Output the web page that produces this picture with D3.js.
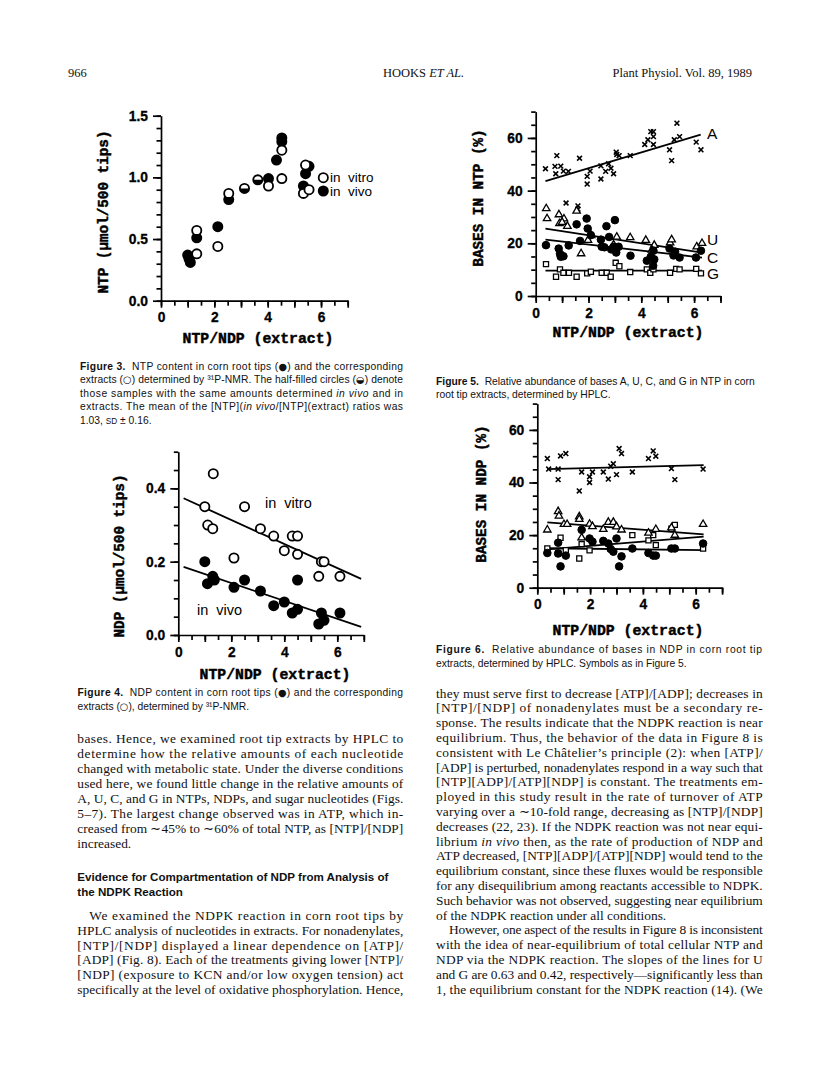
<!DOCTYPE html>
<html>
<head>
<meta charset="utf-8">
<script src="https://cdn.jsdelivr.net/npm/d3@7"></script>
<style>
  html, body { margin: 0; padding: 0; background: #fff; }
  svg { display: block; }
</style>
</head>
<body>
<script>
// ---------------- DATA ----------------
// Figure 3: NTP (umol/500 tips) vs NTP/NDP (extract)
const fig3Vitro = [[1.34,0.38],[1.34,0.57],[2.13,0.44],[2.54,0.87],[4.03,0.93],[4.53,1.22],[4.53,0.99],[5.34,0.87],[5.42,1.10],[5.55,0.90]];
const fig3Vivo  = [[1.0,0.37],[1.05,0.34],[1.1,0.31],[1.34,0.51],[2.13,0.60],[2.54,0.82],[4.03,0.99],[4.33,1.14],[4.53,1.32],[4.53,1.29],[5.34,0.93],[5.42,1.03],[5.55,1.09]];
const fig3Both  = [[3.13,0.91],[3.63,0.98]];
const fig3Legend = ["in  vitro", "in  vivo"];

// Figure 4: NDP (umol/500 tips) vs NTP/NDP (extract)
const fig4Vitro = [[1.32,0.44],[1.0,0.35],[1.11,0.30],[1.3,0.29],[2.1,0.21],[2.5,0.35],[3.1,0.29],[3.6,0.27],[4.0,0.23],[4.3,0.27],[4.5,0.27],[4.5,0.22],[5.4,0.20],[5.5,0.20],[5.3,0.16],[6.1,0.16]];
const fig4Vivo  = [[1.0,0.20],[1.1,0.14],[1.3,0.16],[1.36,0.15],[2.1,0.13],[2.5,0.15],[3.1,0.12],[3.6,0.08],[4.0,0.09],[4.3,0.06],[4.5,0.07],[4.5,0.15],[5.3,0.03],[5.4,0.06],[5.5,0.04],[6.1,0.06]];
const fig4LineVitro = [[0.2,0.373],[6.9,0.153]];
const fig4LineVivo  = [[0.2,0.186],[6.9,0.022]];

// Figure 5: Bases in NTP (%)
const fig5A = [[0.37,48.3],[0.73,49.2],[0.8,53.3],[0.95,49.3],[0.76,46.4],[1.05,47.4],[1.24,47.3],[1.66,52.3],[1.95,45.4],[1.95,42.5],[2.06,47.4],[2.47,44.4],[2.47,49.4],[2.65,47.3],[2.76,50.2],[2.85,48.5],[2.95,46.4],[3.05,54.6],[3.07,53.7],[3.16,53.3],[3.58,53.3],[4.13,57.5],[4.25,59.3],[4.36,62.4],[4.46,62.4],[4.46,60.5],[4.46,57.5],[5.07,55.5],[5.15,51.4],[5.25,59.3],[5.35,65.6],[5.45,60.5],[6.08,58.4],[6.26,55.5],[1.15,35.3],[1.6,34.2],[1.6,33.0]];
const fig5U = [[0.4,33.2],[0.43,29.4],[0.88,30.9],[1.07,29.3],[1.2,26.5],[1.55,32.3],[1.72,16.1],[1.98,21.2],[0.9,27.5],[1.0,28.0],[2.1,23.0],[3.07,22.4],[3.58,22.2],[4.17,21.2],[4.49,19.3],[5.09,20.2],[5.15,21.4],[6.1,18.7],[6.3,20.0],[2.95,19.5],[4.4,17.5]];
const fig5C = [[0.39,19.3],[0.87,18.0],[0.95,14.9],[1.05,15.1],[1.25,19.2],[1.55,27.2],[1.68,20.9],[1.93,29.4],[1.97,25.6],[2.09,23.1],[2.47,21.4],[2.5,18.7],[2.68,26.5],[2.78,22.4],[2.86,17.7],[2.95,18.7],[3.0,28.8],[3.14,18.7],[3.59,15.3],[4.21,13.4],[4.36,14.9],[4.46,17.2],[4.49,13.9],[4.45,11.5],[5.07,18.0],[5.22,15.4],[5.28,16.8],[5.45,14.6],[6.07,14.6],[6.26,17.2],[0.92,16.0],[2.6,18.5],[3.05,16.5]];
const fig5G = [[0.39,12.1],[0.77,7.3],[0.92,10.1],[1.05,8.8],[1.26,8.8],[1.55,7.3],[1.95,8.6],[2.09,9.2],[2.5,8.8],[2.69,8.8],[2.84,7.3],[3.03,12.6],[3.17,11.3],[3.58,9.1],[4.21,10.1],[4.34,8.8],[4.46,10.1],[5.09,8.8],[5.32,10.3],[5.45,10.1],[6.08,10.3],[6.26,8.6]];
const fig5Lines = {A: [[0.37,43.6],[6.25,61.3]], U: [[0.37,25.6],[6.3,16.5]], C: [[0.37,21.4],[6.3,14.6]], G: [[0.37,9.6],[6.3,9.6]]};
const fig5Labels = ["A", "U", "C", "G"];

// Figure 6: Bases in NDP (%)
const fig6A = [[0.38,49.1],[0.43,45.1],[0.79,45.1],[0.79,41.1],[0.88,50.1],[1.08,51.0],[1.59,36.8],[1.68,44.0],[1.98,42.2],[1.98,40.0],[2.09,44.0],[2.5,44.0],[2.69,41.3],[2.78,46.2],[2.88,47.1],[3.0,43.0],[3.1,52.9],[3.19,51.0],[3.6,44.0],[4.21,49.1],[4.39,52.0],[4.49,50.0],[5.08,45.3],[5.21,41.1],[6.28,45.1]];
const fig6U = [[0.38,22.0],[0.79,29.0],[0.82,27.3],[1.01,24.1],[1.13,24.1],[1.59,27.0],[1.59,26.0],[1.68,19.0],[1.98,24.2],[2.09,23.3],[2.5,22.2],[2.69,24.9],[2.88,24.9],[3.0,23.2],[3.19,22.0],[4.21,20.8],[4.49,22.2],[5.08,22.8],[5.21,20.0],[6.28,24.1]];
const fig6C = [[0.38,13.2],[0.79,17.1],[0.79,13.0],[0.88,8.1],[1.08,12.2],[1.68,22.0],[1.98,18.7],[2.09,17.5],[2.5,17.8],[2.69,16.8],[2.78,14.7],[2.88,13.7],[3.0,18.7],[3.1,8.1],[3.19,11.9],[3.6,14.9],[4.21,13.2],[4.39,12.2],[4.49,12.2],[5.08,14.9],[5.21,14.9],[6.28,16.8]];
const fig6G = [[0.38,14.9],[0.79,13.2],[0.88,19.0],[1.08,14.3],[1.59,11.1],[1.68,16.6],[1.98,14.2],[3.6,20.0],[4.21,18.0],[4.39,20.0],[4.49,16.2],[5.08,22.4],[5.21,23.9],[6.28,14.9]];
const fig6Lines = {A: [[0.38,45.1],[6.3,46.6]], U: [[0.38,24.8],[6.3,20.3]], C: [[0.38,15.0],[6.3,14.3]], G: [[0.38,14.6],[6.3,19.4]]};

// Tick labels
const xTickLabels = [0, 2, 4, 6];
const fig3YLabels = [0.0, 0.5, 1.0, 1.5];
const fig4YLabels = [0.0, 0.2, 0.4];
const fig56YLabels = [0, 20, 40, 60];

// Text
const header = ["966", "HOOKS ", "ET AL.", "Plant Physiol. Vol. 89, 1989"];
const cap3 = [
  [["Figure 3.","b"],["  NTP content in corn root tips (\u25CF) and the corresponding",""]],
  [["extracts (\u25CB) determined by \u00B3\u00B9P-NMR. The half-filled circles (\u25D2) denote",""]],
  [["those samples with the same amounts determined ",""],["in vivo","i"],[" and in",""]],
  [["extracts. The mean of the [NTP](",""],["in vivo","i"],["/[NTP](extract) ratios was",""]],
  [["1.03, ",""],["SD","sc"],[" \u00B1 0.16.",""]]
];
const cap4 = [
  [["Figure 4.","b"],["  NDP content in corn root tips (\u25CF) and the corresponding",""]],
  [["extracts (\u25CB), determined by \u00B3\u00B9P-NMR.",""]]
];
const cap5 = [
  [["Figure 5.","b"],["  Relative abundance of bases A, U, C, and G in NTP in corn",""]],
  [["root tip extracts, determined by HPLC.",""]]
];
const cap6 = [
  [["Figure 6.","b"],["  Relative abundance of bases in NDP in corn root tip",""]],
  [["extracts, determined by HPLC. Symbols as in Figure 5.",""]]
];
const leftBody1 = [
  "bases. Hence, we examined root tip extracts by HPLC to",
  "determine how the relative amounts of each nucleotide",
  "changed with metabolic state. Under the diverse conditions",
  "used here, we found little change in the relative amounts of",
  "A, U, C, and G in NTPs, NDPs, and sugar nucleotides (Figs.",
  "5\u20137). The largest change observed was in ATP, which in-",
  "creased from \u223C45% to \u223C60% of total NTP, as [NTP]/[NDP]",
  "increased."
];
const heading = ["Evidence for Compartmentation of NDP from Analysis of", "the NDPK Reaction"];
const leftBody2 = [
  "We examined the NDPK reaction in corn root tips by",
  "HPLC analysis of nucleotides in extracts. For nonadenylates,",
  "[NTP]/[NDP] displayed a linear dependence on [ATP]/",
  "[ADP] (Fig. 8). Each of the treatments giving lower [NTP]/",
  "[NDP] (exposure to KCN and/or low oxygen tension) act",
  "specifically at the level of oxidative phosphorylation. Hence,"
];
const rightBody = [
  "they must serve first to decrease [ATP]/[ADP]; decreases in",
  "[NTP]/[NDP] of nonadenylates must be a secondary re-",
  "sponse. The results indicate that the NDPK reaction is near",
  "equilibrium. Thus, the behavior of the data in Figure 8 is",
  "consistent with Le Ch\u00E2telier\u2019s principle (2): when [ATP]/",
  "[ADP] is perturbed, nonadenylates respond in a way such that",
  "[NTP][ADP]/[ATP][NDP] is constant. The treatments em-",
  "ployed in this study result in the rate of turnover of ATP",
  "varying over a \u223C10-fold range, decreasing as [NTP]/[NDP]",
  "decreases (22, 23). If the NDPK reaction was not near equi-",
  "librium |in vivo| then, as the rate of production of NDP and",
  "ATP decreased, [NTP][ADP]/[ATP][NDP] would tend to the",
  "equilibrium constant, since these fluxes would be responsible",
  "for any disequilibrium among reactants accessible to NDPK.",
  "Such behavior was not observed, suggesting near equilibrium",
  "of the NDPK reaction under all conditions.",
  "However, one aspect of the results in Figure 8 is inconsistent",
  "with the idea of near-equilibrium of total cellular NTP and",
  "NDP via the NDPK reaction. The slopes of the lines for U",
  "and G are 0.63 and 0.42, respectively\u2014significantly less than",
  "1, the equilibrium constant for the NDPK reaction (14). (We"
];

// ---------------- DRAWING ----------------
const W = 816, H = 1073;
const svg = d3.select("body").append("svg").attr("width", W).attr("height", H)
  .attr("viewBox", `0 0 ${W} ${H}`);
svg.append("rect").attr("width", W).attr("height", H).attr("fill", "#fff");

const SANS = "'Liberation Sans', Arial, Helvetica, sans-serif";
const SERIF = "'Liberation Serif', 'Times New Roman', serif";
const MONO = "'Liberation Mono', 'Courier New', monospace";

function drawAxes(g, x, y, yMinor, yMajor, yFmt) {
  const xMinor = d3.range(0, 7.01, 0.5);
  const xMajor = d3.range(0, 7.01, 1);
  const x0 = x(0), y0 = y(0);
  g.append("g").attr("transform", `translate(${x0},0)`)
    .call(d3.axisLeft(y).tickValues(yMinor).tickSize(4.5).tickSizeOuter(0).tickFormat(""));
  g.append("g").attr("transform", `translate(${x0},0)`)
    .call(d3.axisLeft(y).tickValues(yMajor).tickSize(8).tickPadding(5).tickSizeOuter(0).tickFormat(yFmt))
    .call(s => s.select(".domain").remove());
  g.append("g").attr("transform", `translate(0,${y0})`)
    .call(d3.axisBottom(x).tickValues(xMinor).tickSize(5).tickSizeOuter(0).tickFormat(""));
  g.append("g").attr("transform", `translate(0,${y0})`)
    .call(d3.axisBottom(x).tickValues(xMajor).tickSize(7).tickPadding(5).tickSizeOuter(0)
      .tickFormat(d => xTickLabels.includes(d) ? d3.format("d")(d) : ""))
    .call(s => s.select(".domain").remove());
  g.selectAll(".domain, .tick line").attr("stroke", "#000").attr("stroke-width", 1.7);
  g.selectAll(".tick text").attr("fill", "#000").attr("font-family", SANS)
    .attr("font-weight", "bold").attr("font-size", 13.8)
    .attr("stroke", "#000").attr("stroke-width", 0.3);
}

function axisTitles(g, xTitle, xTitleX, xTitleY, yTitle, yTitleX, yTitleY) {
  g.append("text").attr("x", xTitleX).attr("y", xTitleY).attr("text-anchor", "middle")
    .attr("dominant-baseline", "central")
    .attr("font-family", MONO).attr("font-weight", "bold").attr("font-size", 14.8)
    .attr("stroke", "#000").attr("stroke-width", 0.45).text(xTitle);
  g.append("text").attr("transform", `translate(${yTitleX},${yTitleY}) rotate(-90)`)
    .attr("text-anchor", "middle").attr("dominant-baseline", "central")
    .attr("font-family", MONO).attr("font-weight", "bold").attr("font-size", 14.3)
    .attr("stroke", "#000").attr("stroke-width", 0.45).text(yTitle);
}

function circles(g, data, x, y, r, filled, sw) {
  g.append("g").selectAll("circle").data(data).join("circle")
    .attr("cx", d => x(d[0])).attr("cy", d => y(d[1])).attr("r", r)
    .attr("fill", filled ? "#000" : "#fff").attr("stroke", "#000").attr("stroke-width", sw || 1.8);
}
function halfCircles(g, data, x, y, r) {
  const gg = g.append("g");
  gg.selectAll("circle").data(data).join("circle")
    .attr("cx", d => x(d[0])).attr("cy", d => y(d[1])).attr("r", r)
    .attr("fill", "#fff").attr("stroke", "#000").attr("stroke-width", 1.8);
  gg.selectAll("path").data(data).join("path")
    .attr("d", d => {
      const cx = x(d[0]), cy = y(d[1]);
      return `M${cx - r},${cy} A${r},${r} 0 0 0 ${cx + r},${cy} Z`;
    })
    .attr("fill", "#000");
}
function crosses(g, data, x, y, s) {
  g.append("g").selectAll("path").data(data).join("path")
    .attr("d", d => {
      const cx = x(d[0]), cy = y(d[1]);
      return `M${cx - s},${cy - s}L${cx + s},${cy + s}M${cx - s},${cy + s}L${cx + s},${cy - s}`;
    })
    .attr("stroke", "#000").attr("stroke-width", 1.6).attr("fill", "none");
}
function symbols(g, data, x, y, type, size, sw) {
  const sym = d3.symbol().type(type).size(size);
  g.append("g").selectAll("path").data(data).join("path")
    .attr("transform", d => `translate(${x(d[0])},${y(d[1])})`)
    .attr("d", sym).attr("fill", "#fff").attr("stroke", "#000").attr("stroke-width", sw);
}
function fitLine(g, pts, x, y) {
  g.append("path").attr("d", d3.line().x(d => x(d[0])).y(d => y(d[1]))(pts))
    .attr("stroke", "#000").attr("stroke-width", 1.8).attr("fill", "none");
}

// ---------- Figure 3 ----------
{
  const g = svg.append("g");
  const x = d3.scaleLinear().domain([0, 7]).range([161, 347.7]);
  const y = d3.scaleLinear().domain([0, 1.5]).range([300.7, 115.7]);
  drawAxes(g, x, y, d3.range(0, 1.501, 0.1).map(v => +v.toFixed(2)), fig3YLabels, d3.format(".1f"));
  axisTitles(g, "NTP/NDP (extract)", 258, 339, "NTP (\u00B5mol/500 tips)", 103.5, 212);
  circles(g, fig3Vivo, x, y, 4.6, true);
  circles(g, fig3Vitro, x, y, 4.6, false);
  halfCircles(g, fig3Both, x, y, 4.6);
  const lx = 323.3, ly = [177.7, 191];
  g.selectAll("circle.leg").data(ly).join("circle").attr("class", "leg")
    .attr("cx", lx).attr("cy", d => d).attr("r", 4.6)
    .attr("fill", (d, i) => i === 0 ? "#fff" : "#000").attr("stroke", "#000").attr("stroke-width", 1.8);
  g.selectAll("text.leg").data(fig3Legend).join("text").attr("class", "leg")
    .attr("x", 330).attr("y", (d, i) => ly[i]).attr("dominant-baseline", "central")
    .attr("font-family", SANS).attr("font-size", 13.5).style("white-space", "pre").text(d => d);
}

// ---------- Figure 4 ----------
{
  const g = svg.append("g");
  const x = d3.scaleLinear().domain([0, 7]).range([178.3, 363.8]);
  const y = d3.scaleLinear().domain([0, 0.5]).range([635, 451.7]);
  drawAxes(g, x, y, d3.range(0, 0.501, 0.05).map(v => +v.toFixed(2)), fig4YLabels, d3.format(".1f"));
  axisTitles(g, "NTP/NDP (extract)", 275, 675, "NDP (\u00B5mol/500 tips)", 120, 556);
  fitLine(g, fig4LineVitro, x, y);
  fitLine(g, fig4LineVivo, x, y);
  circles(g, fig4Vitro, x, y, 4.6, false);
  circles(g, fig4Vivo, x, y, 4.6, true);
  g.append("text").attr("x", 265).attr("y", 503.3).attr("dominant-baseline", "central")
    .attr("font-family", SANS).attr("font-size", 14.5).style("white-space", "pre").text("in  vitro");
  g.append("text").attr("x", 197).attr("y", 610).attr("dominant-baseline", "central")
    .attr("font-family", SANS).attr("font-size", 14.5).style("white-space", "pre").text("in  vivo");
}

// ---------- Figure 5 ----------
{
  const g = svg.append("g");
  const x = d3.scaleLinear().domain([0, 7]).range([535.7, 720.5]);
  const y = d3.scaleLinear().domain([0, 70]).range([296, 111.6]);
  drawAxes(g, x, y, d3.range(0, 70.1, 5), fig56YLabels, d3.format("d"));
  axisTitles(g, "NTP/NDP (extract)", 628, 333, "BASES IN NTP (%)", 479.3, 198);
  Object.values(fig5Lines).forEach(l => fitLine(g, l, x, y));
  crosses(g, fig5A, x, y, 2.4);
  symbols(g, fig5G, x, y, d3.symbolSquare, 26, 1.3);
  symbols(g, fig5U, x, y, d3.symbolTriangle, 24, 1.3);
  circles(g, fig5C, x, y, 3.8, true, 1);
  const labelY = {A: 133, U: 239, C: 257, G: 273.5};
  g.selectAll("text.base").data(fig5Labels).join("text").attr("class", "base")
    .attr("x", 707).attr("y", d => labelY[d])
    .attr("dominant-baseline", "central")
    .attr("font-family", SANS).attr("font-size", 15.5).text(d => d);
}

// ---------- Figure 6 ----------
{
  const g = svg.append("g");
  const x = d3.scaleLinear().domain([0, 7]).range([537.3, 722.1]);
  const y = d3.scaleLinear().domain([0, 70]).range([587.7, 403.6]);
  drawAxes(g, x, y, d3.range(0, 70.1, 5), fig56YLabels, d3.format("d"));
  axisTitles(g, "NTP/NDP (extract)", 628, 631, "BASES IN NDP (%)", 481.7, 494);
  Object.values(fig6Lines).forEach(l => fitLine(g, l, x, y));
  crosses(g, fig6A, x, y, 2.4);
  symbols(g, fig6G, x, y, d3.symbolSquare, 26, 1.3);
  symbols(g, fig6U, x, y, d3.symbolTriangle, 24, 1.3);
  circles(g, fig6C, x, y, 3.8, true, 1);
}

// ---------- Text ----------
const SYM = /([\u25CF\u25CB\u25D2])/;
function textLine(parent, x, y, segs, opts) {
  const t = parent.append("text").attr("x", x).attr("y", y)
    .attr("font-family", opts.font).attr("font-size", opts.size).attr("fill", "#111")
    .style("white-space", "pre");
  segs.forEach(([s, st]) => {
    s.split(SYM).forEach(part => {
      if (!part) return;
      const ts = t.append("tspan").text(part);
      if (SYM.test(part)) ts.attr("font-family", "'DejaVu Sans', sans-serif").attr("font-size", opts.size * 0.95);
      if (st === "b") ts.attr("font-weight", "bold");
      if (st === "i") ts.attr("font-style", "italic");
      if (st === "sc") ts.attr("font-size", opts.size * 0.8);
    });
  });
  if (opts.width) t.attr("textLength", opts.width).attr("lengthAdjust", "spacing");
  return t;
}
function parseSegs(str) {
  return str.split("|").map((s, i) => [s, i % 2 ? "i" : ""]);
}

const txt = svg.append("g");
textLine(txt, 68, 77, [[header[0], ""]], {font: SERIF, size: 12.5});
textLine(txt, 383, 77, [[header[1], ""], [header[2], "i"]], {font: SERIF, size: 12.5});
txt.append("text").attr("x", 752).attr("y", 77).attr("text-anchor", "end")
  .attr("font-family", SERIF).attr("font-size", 12.5).attr("fill", "#111").text(header[3]);

const capOpts = {font: SANS, size: 10.3};
cap3.forEach((l, i) => textLine(txt, 80, 369.5 + i * 13.6, l, {...capOpts, width: i < 4 ? 323 : null}));
cap4.forEach((l, i) => textLine(txt, 77.5, 696 + i * 13.5, l, {...capOpts, width: i < 1 ? 325.5 : null}));
cap5.forEach((l, i) => textLine(txt, 436, 384.5 + i * 13.5, l, {...capOpts, width: null}));
cap6.forEach((l, i) => textLine(txt, 436, 652.5 + i * 14, l, {...capOpts, width: i < 1 ? 326 : null}));

const bodyOpts = {font: SERIF, size: 13.4};
leftBody1.forEach((s, i) => textLine(txt, 77.3, 742.5 + i * 15, parseSegs(s),
  {...bodyOpts, width: i < leftBody1.length - 1 ? 326 : null}));
heading.forEach((s, i) => textLine(txt, 77.3, 881 + i * 15, [[s, "b"]], {font: SANS, size: 11.6}));
leftBody2.forEach((s, i) => {
  const ind = i === 0 ? 12 : 0;
  textLine(txt, 77.3 + ind, 920 + i * 14.8, parseSegs(s), {...bodyOpts, width: 326 - ind});
});
rightBody.forEach((s, i) => {
  const ind = i === 16 ? 13 : 0;
  textLine(txt, 436 + ind, 697.5 + i * 14.8, parseSegs(s),
    {...bodyOpts, width: i === 15 ? null : 326.7 - ind});
});
</script>
</body>
</html>
